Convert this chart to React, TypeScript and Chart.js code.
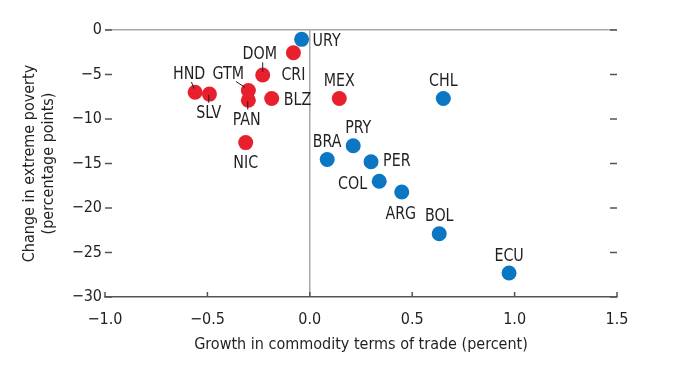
import React, { useEffect, useRef } from "react";
import { Chart, registerables } from "chart.js";

Chart.register(...registerables);

// ---------- data ----------
const COUNTRIES = ["HND", "SLV", "GTM", "PAN", "DOM", "CRI", "BLZ", "NIC", "MEX", "URY", "CHL", "PRY", "BRA", "PER", "COL", "ARG", "BOL", "ECU"];
const TOT_GROWTH = [-0.56, -0.49, -0.3, -0.3, -0.23, -0.08, -0.186, -0.313, 0.144, -0.04, 0.652, 0.212, 0.085, 0.299, 0.339, 0.449, 0.632, 0.973];
const POVERTY_CHANGE = [-7.0, -7.2, -6.8, -7.9, -5.05, -2.55, -7.7, -12.65, -7.7, -1.05, -7.7, -13.0, -14.55, -14.8, -17.0, -18.2, -22.9, -27.3];
const GROUP = ["CAM", "CAM", "CAM", "CAM", "CAM", "CAM", "CAM", "CAM", "CAM", "SAM", "SAM", "SAM", "SAM", "SAM", "SAM", "SAM", "SAM", "SAM"];
const GROUP_NAMES = ["CAM", "SAM"];
const X_TITLE = "Growth in commodity terms of trade (percent)";
const Y_TITLE = ["Change in extreme poverty", "(percentage points)"];

// ---------- styles ----------
const GROUP_COLORS: Record<string, string> = { CAM: "#E8202D", SAM: "#0B76C1" };
const FONT = '"Liberation Sans Narrow", "DejaVu Sans Condensed", "Arial Narrow", Arial, sans-serif';
const TEXT = "#231f20";
// label placement: [dx, dy, align, leader?[x1,y1,x2,y2]]
const LABEL_PLACE: Record<string, [number, number, CanvasTextAlign, number[] | null]> = {
  HND: [-6, -18.7, "center", [-3.7, -10.3, -1, -3.7]],
  SLV: [-0.7, 18.7, "center", [-0.7, 1, -0.7, 8.7]],
  GTM: [-20, -17.4, "center", [-12.3, -9, -3.3, -3]],
  PAN: [-1.6, 19.3, "center", [-0.6, 1, -0.6, 9.3]],
  DOM: [-3, -22, "center", [0, -12.5, 0, -3]],
  CRI: [0, 22, "center", null],
  BLZ: [12, 0.6, "left", null],
  NIC: [0, 20, "center", null],
  MEX: [0, -18, "center", null],
  URY: [11, 0.5, "left", null],
  CHL: [0, -18, "center", null],
  PRY: [5, -18, "center", null],
  BRA: [0, -18, "center", null],
  PER: [12, -1, "left", null],
  COL: [-12, 1.6, "right", null],
  ARG: [-1, 21, "center", null],
  BOL: [0, -18, "center", null],
  ECU: [0, -18, "center", null],
};
const LABEL_SQUEEZE = 0.88;

const fmtX = (v: number) => (v < 0 ? "\u2212" : "") + Math.abs(v).toFixed(1);
const fmtY = (v: number) => (v < 0 ? "\u2212" : "") + String(Math.abs(v));

const decorPlugin = {
  id: "decor",
  afterDatasetsDraw(chart: any) {
    const { ctx, chartArea, scales } = chart;
    const xs = scales.x;
    const ys = scales.y;
    ctx.save();
    ctx.strokeStyle = "#555";
    ctx.lineWidth = 1.5;
    ctx.beginPath();
    ys.ticks.forEach((t: any) => {
      const py = ys.getPixelForValue(t.value);
      ctx.moveTo(chartArea.left, py);
      ctx.lineTo(chartArea.left + 7, py);
      ctx.moveTo(chartArea.right - 7, py);
      ctx.lineTo(chartArea.right, py);
    });
    xs.ticks.forEach((t: any) => {
      const px = xs.getPixelForValue(t.value);
      ctx.moveTo(px, chartArea.bottom);
      ctx.lineTo(px, chartArea.bottom - 5);
    });
    ctx.stroke();

    // labels and leader lines
    ctx.fillStyle = TEXT;
    ctx.strokeStyle = TEXT;
    ctx.lineWidth = 1;
    COUNTRIES.forEach((c, i) => {
      const px = xs.getPixelForValue(TOT_GROWTH[i]);
      const py = ys.getPixelForValue(POVERTY_CHANGE[i]);
      const [dx, dy, align, leader] = LABEL_PLACE[c];
      ctx.save();
      ctx.translate(px + dx, py + dy);
      ctx.scale(LABEL_SQUEEZE, 1);
      ctx.font = `18px ${FONT}`;
      ctx.textBaseline = "middle";
      ctx.textAlign = align;
      ctx.fillText(c, 0, 1);
      ctx.restore();
      if (leader) {
        ctx.beginPath();
        ctx.moveTo(px + leader[0], py + leader[1]);
        ctx.lineTo(px + leader[2], py + leader[3]);
        ctx.stroke();
      }
    });
    ctx.restore();
  },
};

export default function App() {
  const ref = useRef<HTMLCanvasElement>(null);
  useEffect(() => {
    if (!ref.current) return;
    const datasets = GROUP_NAMES.map((g) => ({
      label: g,
      data: COUNTRIES.map((c, i) => ({ x: TOT_GROWTH[i], y: POVERTY_CHANGE[i], g: GROUP[i] })).filter((p) => p.g === g),
      backgroundColor: GROUP_COLORS[g],
      borderWidth: 0,
      pointRadius: 7.5,
      pointHoverRadius: 7.5,
    }));
    const chart = new Chart(ref.current, {
      type: "scatter",
      data: { datasets },
      options: {
        responsive: false,
        animation: false,
        events: [],
        layout: { padding: { left: 0, top: 30, right: 70, bottom: 0 } },
        plugins: { legend: { display: false }, tooltip: { enabled: false } },
        scales: {
          x: {
            type: "linear",
            min: -1,
            max: 1.5,
            ticks: { stepSize: 0.5, callback: (v: any) => fmtX(Number(v)), color: TEXT, font: { family: FONT, size: 16 }, padding: 13, maxRotation: 0 },
            grid: {
              drawTicks: false,
              color: (c: any) => (c.tick && Math.abs(c.tick.value) < 1e-9 ? "#a8a8a8" : "rgba(0,0,0,0)"),
              lineWidth: 1.5,
            },
            border: { display: true, color: "#555", width: 1.5 },
            title: { display: true, text: X_TITLE, color: TEXT, font: { family: FONT, size: 16, lineHeight: 1.2 }, padding: { top: 0, bottom: 11 } },
            afterFit: (s: any) => { s.height = 68; },
          },
          y: {
            type: "linear",
            min: -30,
            max: 0,
            ticks: { stepSize: 5, callback: (v: any) => fmtY(Number(v)), color: TEXT, font: { family: FONT, size: 16 }, padding: 3 },
            grid: {
              drawTicks: false,
              color: (c: any) => (c.tick && Math.abs(c.tick.value) < 1e-9 ? "#a8a8a8" : "rgba(0,0,0,0)"),
              lineWidth: 1.5,
            },
            border: { display: false },
            title: { display: true, text: Y_TITLE, color: TEXT, font: { family: FONT, size: 16, lineHeight: 1.2 }, padding: { top: 20, bottom: 0 } },
            afterFit: (s: any) => { s.width = 105; },
          },
        },
      },
      plugins: [decorPlugin],
    });
    return () => chart.destroy();
  }, []);
  return (
    <div style={{ position: "absolute", left: 0, top: 0, width: 687, height: 365, background: "#fff" }}>
      <canvas ref={ref} width={687} height={365} style={{ display: "block" }} />
    </div>
  );
}
